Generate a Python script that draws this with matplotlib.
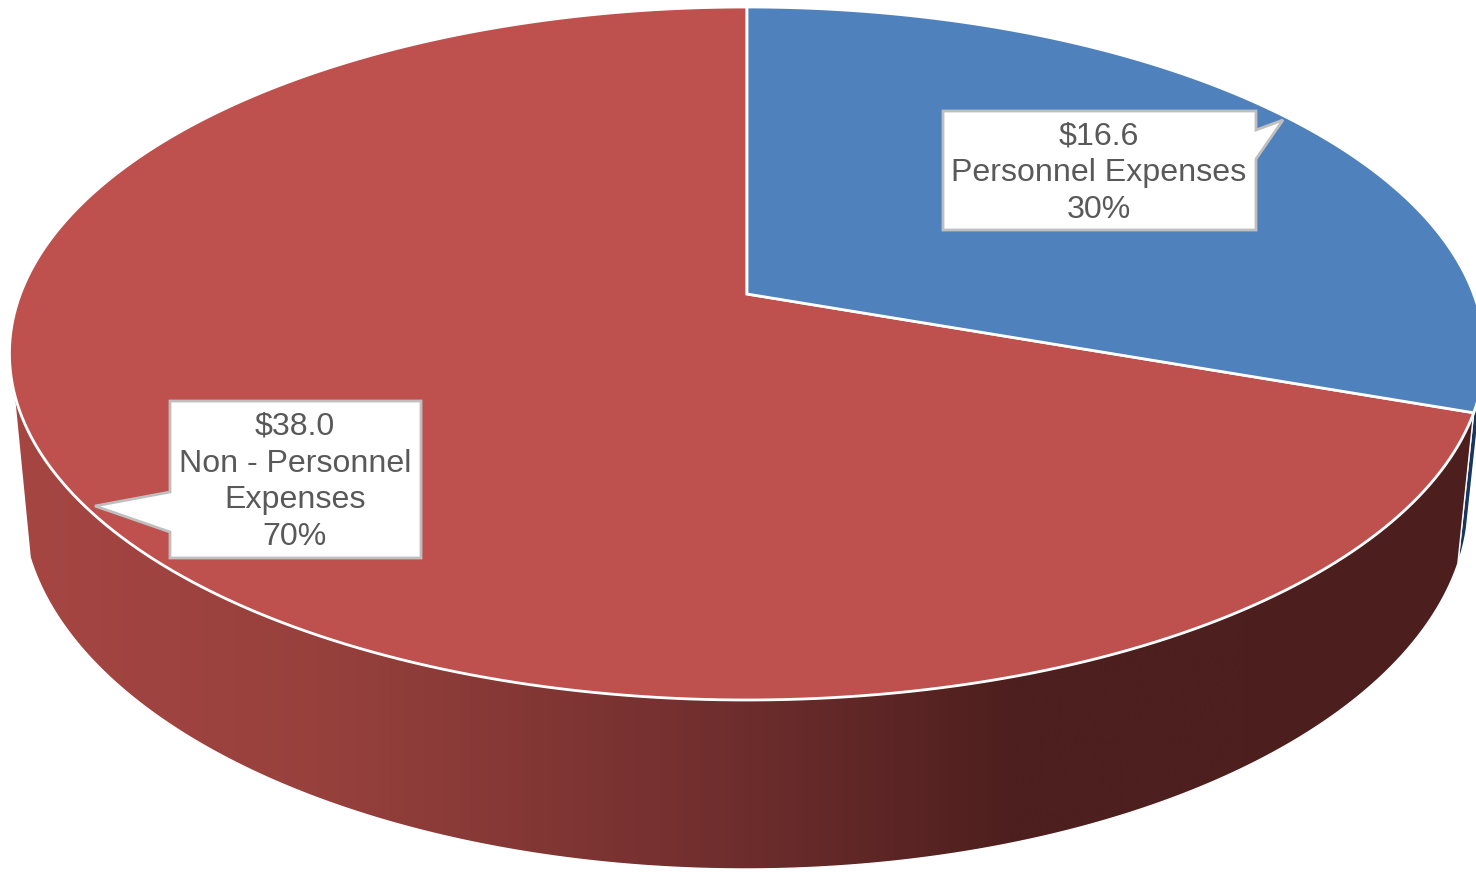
#!/usr/bin/env python3
"""3D-look pie of personnel vs non-personnel expenses."""

import numpy as np
import matplotlib
matplotlib.use('Agg')
import matplotlib.pyplot as plt
from matplotlib.colors import LinearSegmentedColormap
from matplotlib.patches import Polygon

# ── Data ───────────────────────────────────────────────────────
categories = ['Personnel Expenses', 'Non - Personnel\nExpenses']
amounts = [16.6, 38.0]
percent_labels = ['30%', '70%']

# ── Configuration ──────────────────────────────────────────────
W, H = 1476, 872
APEX_X, APEX_Y = 747, 294
TILT_B, TILT_C = -285.8, 0.1717   # perspective of the top disc
RADIUS_X = 726.6
TOP_CX, TOP_CY, TOP_A, TOP_B = 748, 353, 736, 347
LOW_CX, LOW_CY, LOW_A, LOW_B = 746, 500, 722, 369
WALL_LEFT_TOP = 254   # degrees clockwise from top, where the wall leaves the silhouette
WALL_LEFT_LOW = 251.5
BLUE_WALL_FROM = 104

plt.rcParams['font.family'] = ['Liberation Sans', 'DejaVu Sans']


def top_disc(theta):
    """Degrees clockwise from 12 o'clock -> pixel position on the top disc."""
    t = np.radians(theta)
    u, v = np.sin(t), np.cos(t)
    d = 1 + TILT_C * v
    return APEX_X + RADIUS_X * u / d, (APEX_Y + TILT_B * v) / d


def low_disc(theta):
    x, y = top_disc(theta)
    return (LOW_CX + LOW_A * (x - TOP_CX) / TOP_A,
            LOW_CY + LOW_B * (y - TOP_CY) / TOP_B)


def arc(func, a, b, n=240):
    x, y = func(np.linspace(a, b, n))
    return np.column_stack([x, y])


split = 360 * amounts[0] / sum(amounts)

fig = plt.figure(figsize=(W / 100, H / 100), dpi=100, facecolor='white')
ax = fig.add_axes([0, 0, 1, 1])

# ── Side wall ──────────────────────────────────────────────────
blue_wall = np.vstack([arc(top_disc, BLUE_WALL_FROM, split),
                       arc(low_disc, split, BLUE_WALL_FROM)])
ax.add_patch(Polygon(blue_wall, closed=True, facecolor='#17375E',
                     edgecolor='white', linewidth=1.0, zorder=1))

red_wall = np.vstack([arc(top_disc, split, WALL_LEFT_TOP),
                      arc(low_disc, WALL_LEFT_LOW, split)])
wall_cmap = LinearSegmentedColormap.from_list(
    'wall', [(0.0, '#A64643'), (0.22, '#96403C'), (0.5, '#6E2D2D'),
             (0.68, '#4E1F1E'), (1.0, '#4C1F1E')])
grad = ax.imshow(np.linspace(0, 1, 512).reshape(1, -1), cmap=wall_cmap,
                 extent=(14, 1476, H, 0), aspect='auto', zorder=2)
wall_patch = Polygon(red_wall, closed=True, facecolor='none',
                     edgecolor='white', linewidth=1.0, zorder=3)
ax.add_patch(wall_patch)
grad.set_clip_path(wall_patch)

# ── Top face ───────────────────────────────────────────────────
apex = [[APEX_X, APEX_Y]]
ax.add_patch(Polygon(np.vstack([apex, arc(top_disc, split, 360)]), closed=True,
                     facecolor='#BE504D', edgecolor='white', linewidth=2.0,
                     joinstyle='miter', zorder=4))
ax.add_patch(Polygon(np.vstack([apex, arc(top_disc, 0, split)]), closed=True,
                     facecolor='#4F81BD', edgecolor='white', linewidth=2.0,
                     joinstyle='miter', zorder=5))

# ── Callouts ───────────────────────────────────────────────────
callouts = [
    [(943, 111), (1256, 111), (1256, 130), (1283, 120), (1256, 159),
     (1256, 230), (943, 230)],
    [(170, 401), (421, 401), (421, 558), (170, 558), (170, 532), (95, 506),
     (170, 492)],
]
label_pos = [(1099, 173), (295, 482)]

for i, outline in enumerate(callouts):
    ax.add_patch(Polygon(outline, closed=True, facecolor='white',
                         edgecolor='#BFBFBF', linewidth=2.0,
                         joinstyle='miter', zorder=6))
    label = f'${amounts[i]:.1f}\n{categories[i]}\n{percent_labels[i]}'
    ax.text(*label_pos[i], label, ha='center', va='center', fontsize=23.1,
            color='#595959', linespacing=1.3, zorder=7)

ax.set_xlim(0, W)
ax.set_ylim(H, 0)
ax.axis('off')

fig.savefig('out.png', dpi=100, facecolor='white')
plt.close()
